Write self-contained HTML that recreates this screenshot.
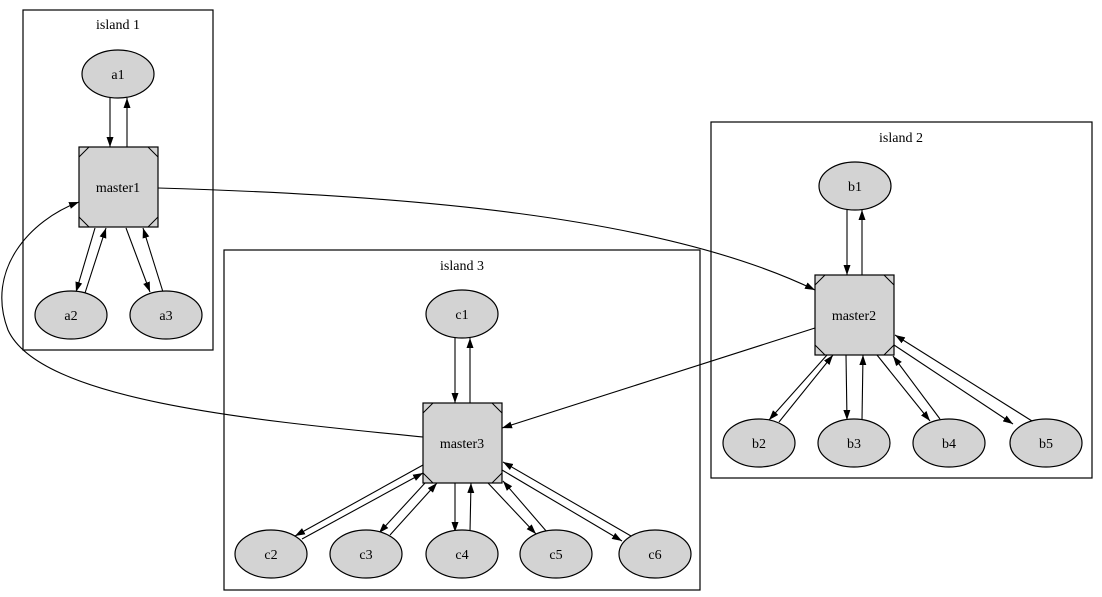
<!DOCTYPE html>
<html><head><meta charset="utf-8"><style>
html,body{margin:0;padding:0;background:#fff;}
svg{display:block;}
text{font-family:"Liberation Serif",serif;font-size:14px;text-anchor:middle;fill:#000;}
</style></head><body>
<svg width="1102" height="597" viewBox="0 0 1102 597" xmlns="http://www.w3.org/2000/svg">
<defs>
<marker id="ah" viewBox="0 0 10 10" refX="10" refY="5" markerWidth="10" markerHeight="10" markerUnits="userSpaceOnUse" orient="auto">
<path d="M0,1.5 L10,5 L0,8.5 Z" fill="#000"/>
</marker>
<g id="m">
<rect x="0" y="0" width="79" height="80" fill="#d3d3d3" stroke="#000" stroke-width="1.2"/>
<path d="M0,10 L10,0 M69,0 L79,10 M0,70 L10,80 M69,80 L79,70" stroke="#000" fill="none"/>
</g>
</defs>
<g fill="none" stroke="#000" stroke-width="1.2">
<rect x="23" y="10" width="190" height="340"/>
<rect x="711" y="122" width="381" height="356"/>
<rect x="224" y="250" width="476" height="340"/>
</g>
<text x="118" y="29">island 1</text>
<text x="901" y="142">island 2</text>
<text x="462" y="270">island 3</text>

<g fill="none" stroke="#000" stroke-width="1.1" marker-end="url(#ah)">
<!-- island 1 -->
<line x1="110" y1="98" x2="110" y2="147"/>
<line x1="127" y1="147" x2="127" y2="98"/>
<line x1="95" y1="228" x2="76" y2="292"/>
<line x1="85" y1="293" x2="106" y2="228"/>
<line x1="126" y1="228" x2="150" y2="292"/>
<line x1="163" y1="292" x2="143" y2="228"/>
<!-- cross -->
<path d="M158,188 C400,195 660,215 815,290"/>
<path d="M423,437 C250,420 40,400 8,330 C-15,270 30,220 79,202"/>
<line x1="815" y1="328" x2="502" y2="428"/>
<!-- island 2 -->
<line x1="847" y1="210" x2="847" y2="275"/>
<line x1="862" y1="275" x2="862" y2="210"/>
<line x1="827" y1="355" x2="769" y2="420"/>
<line x1="779" y1="422" x2="833" y2="355"/>
<line x1="846" y1="355" x2="847" y2="420"/>
<line x1="862" y1="420" x2="863" y2="355"/>
<line x1="877" y1="355" x2="930" y2="421"/>
<line x1="940" y1="419" x2="893" y2="356"/>
<line x1="894" y1="345" x2="1013" y2="424"/>
<line x1="1032" y1="421" x2="895" y2="335"/>
<!-- island 3 -->
<line x1="455" y1="338" x2="455" y2="403"/>
<line x1="470" y1="403" x2="470" y2="338"/>
<line x1="423" y1="465" x2="295" y2="536"/>
<line x1="302" y1="539" x2="423" y2="473"/>
<line x1="425" y1="483" x2="379" y2="533"/>
<line x1="390" y1="535" x2="437" y2="483"/>
<line x1="455" y1="483" x2="455" y2="532"/>
<line x1="470" y1="532" x2="471" y2="483"/>
<line x1="488" y1="483" x2="536" y2="534"/>
<line x1="547" y1="532" x2="503" y2="481"/>
<line x1="502" y1="470" x2="622" y2="541"/>
<line x1="631" y1="536" x2="503" y2="462"/>
</g>

<g fill="#d3d3d3" stroke="#000" stroke-width="1.2">
<ellipse cx="118" cy="74" rx="36" ry="24"/>
<ellipse cx="71" cy="315" rx="36" ry="24"/>
<ellipse cx="166" cy="315" rx="36" ry="24"/>
<ellipse cx="855" cy="186" rx="36" ry="24"/>
<ellipse cx="759" cy="443" rx="36" ry="24"/>
<ellipse cx="854" cy="443" rx="36" ry="24"/>
<ellipse cx="949" cy="443" rx="36" ry="24"/>
<ellipse cx="1046" cy="443" rx="36" ry="24"/>
<ellipse cx="462" cy="314" rx="36" ry="24"/>
<ellipse cx="271" cy="554" rx="36" ry="24"/>
<ellipse cx="366" cy="554" rx="36" ry="24"/>
<ellipse cx="462" cy="554" rx="36" ry="24"/>
<ellipse cx="556" cy="554" rx="36" ry="24"/>
<ellipse cx="655" cy="554" rx="36" ry="24"/>
</g>
<use href="#m" x="79" y="147"/>
<use href="#m" x="815" y="275"/>
<use href="#m" x="423" y="403"/>

<text x="118" y="79">a1</text>
<text x="71" y="320">a2</text>
<text x="166" y="320">a3</text>
<text x="118" y="192">master1</text>
<text x="855" y="191">b1</text>
<text x="854" y="320">master2</text>
<text x="759" y="448">b2</text>
<text x="854" y="448">b3</text>
<text x="949" y="448">b4</text>
<text x="1046" y="448">b5</text>
<text x="462" y="319">c1</text>
<text x="462" y="448">master3</text>
<text x="271" y="559">c2</text>
<text x="366" y="559">c3</text>
<text x="462" y="559">c4</text>
<text x="556" y="559">c5</text>
<text x="655" y="559">c6</text>
</svg>
</body></html>
